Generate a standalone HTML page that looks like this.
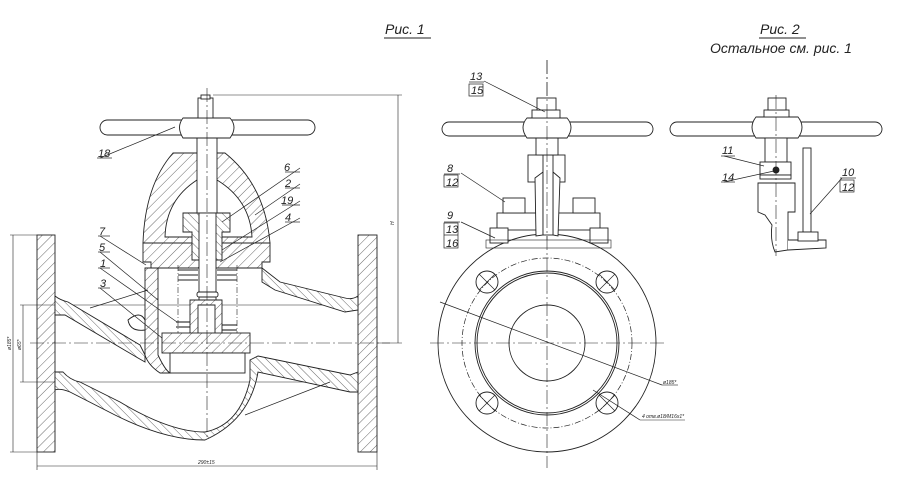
<!DOCTYPE html>
<html><head><meta charset="utf-8"><style>
html,body{margin:0;padding:0;background:#fff;}
svg{display:block}
text{font-family:"Liberation Sans",sans-serif;font-style:italic;fill:#222;}
</style></head><body>
<svg width="900" height="484" viewBox="0 0 900 484" xmlns="http://www.w3.org/2000/svg">
<defs>
<pattern id="h" width="7" height="7" patternUnits="userSpaceOnUse" patternTransform="rotate(45)">
<rect width="7" height="7" fill="#fff"/><line x1="0" y1="0" x2="0" y2="7" stroke="#444" stroke-width="0.8"/></pattern>
<pattern id="h2" width="6" height="6" patternUnits="userSpaceOnUse" patternTransform="rotate(-45)">
<rect width="6" height="6" fill="#fff"/><line x1="0" y1="0" x2="0" y2="6" stroke="#444" stroke-width="0.8"/></pattern>
</defs>
<g fill="none" stroke="#222" stroke-width="0.9">
<!-- titles -->
<text x="385" y="34" font-size="14" stroke="none">Рис.  1</text>
<line x1="384" y1="38" x2="431" y2="38"/>
<text x="760" y="34" font-size="14" stroke="none">Рис.  2</text>
<line x1="759" y1="38" x2="806" y2="38"/>
<text x="710" y="53" font-size="14" stroke="none">Остальное  см.  рис.  1</text>

<!-- ===== LEFT VIEW ===== -->
<rect x="37" y="235" width="18" height="217" fill="url(#h)"/>
<rect x="358" y="235" width="19" height="217" fill="url(#h)"/>
<line x1="55" y1="305" x2="358" y2="305" stroke-width="0.6"/>
<line x1="55" y1="382" x2="358" y2="382" stroke-width="0.6"/>
<path d="M55 296 Q60 300 68 302 L140 345 L145 355 L145 362 L138 358 L65 315 L55 315 Z" fill="url(#h2)"/>
<path d="M55 372 L63 372 Q70 380 80 382 L120 402 Q170 432 205 432 Q240 425 250 380 L250 360 L258 356 L350 375 L358 372 L358 392 L350 392 L258 372 Q250 420 205 440 Q165 440 115 415 L70 392 Q60 388 55 390 Z" fill="url(#h2)"/>
<path d="M262 268 L280 282 L345 298 Q352 300 358 296 L358 310 L345 312 L275 290 L262 282 Z" fill="url(#h2)"/>
<path d="M145 268 L158 268 L158 355 Q165 370 170 373 L160 373 Q148 365 145 355 Z" fill="url(#h)"/>
<path d="M128 320 Q140 310 145 320 L145 330 Q130 332 128 320 Z" fill="#fff"/>
<!-- bonnet -->
<path d="M143 243 Q145 185 173 153 L225 153 Q265 185 270 243 Z" fill="url(#h)"/>
<path d="M165 237 Q166 200 197 180 L217 180 Q250 200 252 237 Z" fill="#fff"/>
<path d="M143 243 L270 243 L270 262 L262 262 L262 268 L151 268 L151 262 L143 262 Z" fill="url(#h)"/>
<path d="M183 213 L230 213 L230 232 L222 232 L222 260 L192 260 L192 232 L183 232 Z" fill="url(#h2)"/>
<!-- stem -->
<rect x="197" y="135" width="20" height="78" fill="#fff"/>
<rect x="199" y="213" width="17" height="88" fill="#fff"/>
<rect x="197" y="292" width="21" height="5" rx="2" fill="#fff"/>
<path d="M190 300 L222 300 L222 335 L215 335 L215 305 L198 305 L198 335 L190 335 Z" fill="url(#h)"/>
<g stroke-width="1.1">
<line x1="178" y1="270" x2="198" y2="270"/><line x1="178" y1="275" x2="198" y2="275"/><line x1="178" y1="280" x2="198" y2="280"/>
<line x1="217" y1="270" x2="237" y2="270"/><line x1="217" y1="275" x2="237" y2="275"/><line x1="217" y1="280" x2="237" y2="280"/>
<line x1="176" y1="322" x2="190" y2="322"/><line x1="176" y1="327" x2="190" y2="327"/>
<line x1="222" y1="325" x2="237" y2="325"/><line x1="222" y1="330" x2="237" y2="330"/>
</g>
<line x1="178" y1="265" x2="178" y2="333" stroke-dasharray="6 2 1 2" stroke-width="0.6"/>
<line x1="237" y1="265" x2="237" y2="333" stroke-dasharray="6 2 1 2" stroke-width="0.6"/>
<rect x="162" y="333" width="88" height="20" fill="url(#h)"/>
<rect x="170" y="353" width="75" height="20" fill="#fff"/>
<!-- handwheel -->
<rect x="100" y="120" width="215" height="15" rx="7.5" fill="#fff"/>
<path d="M183 118 L230 118 Q238 127 230 138 L183 138 Q176 127 183 118 Z" fill="#fff"/>
<rect x="198" y="98" width="15" height="20" fill="#fff"/>
<rect x="201" y="95" width="9" height="4" fill="#fff"/>
<line x1="207" y1="88" x2="207" y2="440" stroke-dasharray="14 3 2 3" stroke-width="0.6"/>
<line x1="30" y1="343" x2="390" y2="343" stroke-dasharray="14 3 2 3" stroke-width="0.6"/>
<!-- dimensions -->
<line x1="213" y1="95" x2="402" y2="95" stroke-width="0.6"/>
<line x1="398" y1="95" x2="398" y2="343" stroke-width="0.6"/>
<line x1="377" y1="343" x2="402" y2="343" stroke-width="0.6"/>
<text x="394" y="225" font-size="5" stroke="none" transform="rotate(-90 394 225)">H</text>
<line x1="10" y1="235" x2="37" y2="235" stroke-width="0.6"/>
<line x1="10" y1="452" x2="37" y2="452" stroke-width="0.6"/>
<line x1="13" y1="235" x2="13" y2="452" stroke-width="0.6"/>
<line x1="20" y1="305" x2="55" y2="305" stroke-width="0.6"/>
<line x1="20" y1="382" x2="55" y2="382" stroke-width="0.6"/>
<line x1="23" y1="305" x2="23" y2="382" stroke-width="0.6"/>
<text x="11" y="350" font-size="5" stroke="none" transform="rotate(-90 11 350)">ø185*</text>
<text x="21" y="350" font-size="5" stroke="none" transform="rotate(-90 21 350)">ø65*</text>
<line x1="37" y1="452" x2="37" y2="470" stroke-width="0.6"/>
<line x1="377" y1="452" x2="377" y2="470" stroke-width="0.6"/>
<line x1="37" y1="466" x2="377" y2="466" stroke-width="0.6"/>
<text x="198" y="464" font-size="5" stroke="none">290±15</text>
<g stroke-width="0.7">
<line x1="100" y1="158" x2="175" y2="127"/><line x1="97" y1="158" x2="112" y2="158"/>
<line x1="300" y1="168" x2="222" y2="222"/><line x1="285" y1="172" x2="300" y2="172"/>
<line x1="300" y1="184" x2="255" y2="215"/><line x1="285" y1="188" x2="300" y2="188"/>
<line x1="300" y1="201" x2="222" y2="250"/><line x1="282" y1="205" x2="300" y2="205"/>
<line x1="300" y1="218" x2="220" y2="262"/><line x1="285" y1="222" x2="300" y2="222"/>
<line x1="100" y1="236" x2="146" y2="265"/><line x1="98" y1="236" x2="110" y2="236"/>
<line x1="100" y1="252" x2="158" y2="300"/><line x1="98" y1="252" x2="110" y2="252"/>
<line x1="100" y1="268" x2="177" y2="322"/><line x1="98" y1="268" x2="110" y2="268"/>
<line x1="100" y1="288" x2="162" y2="338"/><line x1="98" y1="288" x2="110" y2="288"/>
<line x1="90" y1="308" x2="148" y2="290"/>
<line x1="245" y1="415" x2="330" y2="382"/>
</g>
<g font-size="11" stroke="none">
<text x="98" y="157">18</text><text x="284" y="171">6</text><text x="285" y="187">2</text>
<text x="281" y="204">19</text><text x="285" y="221">4</text>
<text x="99" y="235">7</text><text x="99" y="251">5</text><text x="100" y="267">1</text><text x="100" y="287">3</text>
</g>

<!-- ===== MIDDLE VIEW ===== -->
<circle cx="547" cy="343" r="109" fill="#fff"/>
<circle cx="547" cy="343" r="85" stroke-dasharray="6 2 1 2" stroke-width="0.7"/>
<circle cx="547" cy="343" r="72"/>
<circle cx="547" cy="343" r="70"/>
<circle cx="547" cy="343" r="38"/>
<g>
<circle cx="487" cy="282" r="11"/><circle cx="607" cy="282" r="11"/>
<circle cx="487" cy="403" r="11"/><circle cx="607" cy="403" r="11"/>
<path d="M479 274 L495 290 M495 274 L479 290 M599 274 L615 290 M615 274 L599 290 M479 395 L495 411 M495 395 L479 411 M599 395 L615 411 M615 395 L599 411" stroke-width="0.7"/>
</g>
<line x1="547" y1="60" x2="547" y2="468" stroke-dasharray="14 3 2 3" stroke-width="0.6"/>
<line x1="430" y1="343" x2="665" y2="343" stroke-dasharray="14 3 2 3" stroke-width="0.6"/>
<line x1="440" y1="302" x2="662" y2="385" stroke-width="0.7"/>
<line x1="662" y1="385" x2="678" y2="385" stroke-width="0.6"/>
<text x="663" y="384" font-size="5" stroke="none">ø185*</text>
<line x1="593" y1="390" x2="640" y2="420" stroke-width="0.7"/>
<line x1="640" y1="420" x2="685" y2="420" stroke-width="0.6"/>
<text x="642" y="418" font-size="5" stroke="none">4  отв.ø18/М16х1*</text>
<rect x="497" y="213" width="103" height="17" fill="#fff"/>
<rect x="503" y="198" width="22" height="15" fill="#fff"/>
<rect x="573" y="198" width="22" height="15" fill="#fff"/>
<rect x="490" y="228" width="18" height="15" fill="#fff"/>
<rect x="590" y="228" width="18" height="15" fill="#fff"/>
<rect x="486" y="240" width="125" height="8" fill="none" stroke-width="0.6"/>
<rect x="528" y="155" width="37" height="27" fill="#fff"/>
<path d="M535 178 L543 172 L543 235 L536 236 Z M553 172 L560 178 L558 236 L553 235 Z" fill="#fff"/>
<rect x="543" y="155" width="10" height="80" fill="#fff"/>
<rect x="536" y="138" width="22" height="17" fill="#fff"/>
<rect x="442" y="122" width="211" height="14" rx="7" fill="#fff"/>
<path d="M527 118 L567 118 Q575 127 567 138 L527 138 Q519 127 527 118 Z" fill="#fff"/>
<rect x="532" y="110" width="28" height="8" fill="#fff"/>
<rect x="537" y="98" width="19" height="12" fill="#fff"/>
<line x1="547" y1="60" x2="547" y2="240" stroke-dasharray="14 3 2 3" stroke-width="0.6"/>
<g stroke-width="0.7">
<line x1="484" y1="81" x2="545" y2="112"/>
<line x1="461" y1="173" x2="505" y2="202"/>
<line x1="461" y1="222" x2="495" y2="238"/>
</g>
<g font-size="11" stroke="none">
<text x="470" y="80">13</text><text x="471" y="94">15</text>
<text x="447" y="172">8</text><text x="446" y="186">12</text>
<text x="447" y="219">9</text><text x="446" y="233">13</text><text x="446" y="247">16</text>
</g>
<rect x="469" y="84" width="14" height="12" stroke-width="0.7"/>
<line x1="469" y1="82" x2="484" y2="82" stroke-width="0.7"/>
<rect x="444" y="175" width="14" height="12" stroke-width="0.7"/>
<line x1="444" y1="174" x2="460" y2="174" stroke-width="0.7"/>
<rect x="444" y="223" width="14" height="25" stroke-width="0.7"/>
<line x1="444" y1="222" x2="460" y2="222" stroke-width="0.7"/><line x1="444" y1="235" x2="458" y2="235" stroke-width="0.7"/>

<!-- ===== RIGHT VIEW ===== -->
<rect x="670" y="122" width="212" height="14" rx="7" fill="#fff"/>
<path d="M756 117 L798 117 Q806 127 798 138 L756 138 Q748 127 756 117 Z" fill="#fff"/>
<rect x="764" y="110" width="25" height="7" fill="#fff"/>
<rect x="768" y="98" width="18" height="12" fill="#fff"/>
<rect x="765" y="138" width="22" height="24" fill="#fff"/>
<rect x="760" y="162" width="31" height="13" fill="#fff"/>
<rect x="760" y="175" width="31" height="4" fill="#fff"/>
<circle cx="776" cy="170" r="3" fill="#222"/>
<path d="M758 183 L795 183 L795 212 L788 212 L788 250 L775 252 Q770 240 772 225 L765 215 L758 212 Z" fill="#fff"/>
<path d="M788 240 L826 240 L826 248 L788 250" fill="#fff"/>
<rect x="803" y="148" width="8" height="84" fill="#fff"/>
<rect x="798" y="232" width="20" height="9" fill="#fff"/>
<line x1="776" y1="95" x2="776" y2="256" stroke-dasharray="14 3 2 3" stroke-width="0.6"/>
<g stroke-width="0.7">
<line x1="724" y1="156" x2="764" y2="166"/><line x1="721" y1="156" x2="735" y2="156"/>
<line x1="724" y1="182" x2="774" y2="171"/><line x1="721" y1="182" x2="735" y2="182"/>
<line x1="842" y1="178" x2="810" y2="214"/>
</g>
<g font-size="11" stroke="none">
<text x="722" y="154">11</text><text x="722" y="181">14</text>
<text x="842" y="176">10</text><text x="842" y="191">12</text>
</g>
<rect x="840" y="180" width="14" height="12" stroke-width="0.7"/>
<line x1="840" y1="178" x2="856" y2="178" stroke-width="0.7"/>
</g>
</svg>
</body></html>
